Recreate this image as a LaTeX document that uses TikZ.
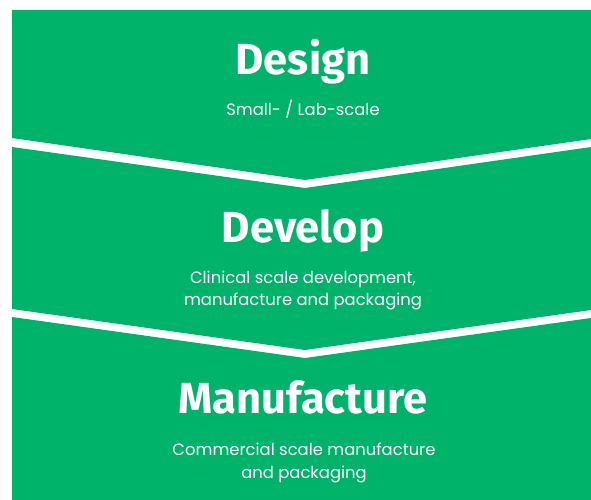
\documentclass[tikz,border=0pt]{standalone}
\usepackage{fontspec}
\newfontfamily\titlefont{Fira Sans}
\newfontfamily\subfont{Poppins}
\definecolor{brandgreen}{RGB}{0,179,107}
\begin{document}
\begin{tikzpicture}[x=1pt,y=-1pt,
  band/.style={fill=brandgreen,draw=none},
  title/.style={text=white,font=\titlefont\fontsize{43.5}{50}\selectfont\bfseries,anchor=base,inner sep=0pt},
  sub/.style={text=white,font=\subfont\fontsize{16.4}{22}\selectfont,anchor=base,inner sep=0pt}]
\fill[white] (0,0) rectangle (591,500);
\useasboundingbox (0,0) rectangle (591,500);
\fill[band] (12,10) -- (591,10) -- (591,139) -- (305,180) -- (12,138) -- cycle;
\fill[band] (12,147) -- (305,188) -- (591,147) -- (591,310) -- (305,350) -- (12,309) -- cycle;
\fill[band] (12,317) -- (305,358) -- (591,318) -- (591,500) -- (12,500) -- cycle;
\node[title] (t1) at (303,75) {Design};
\node[sub] (s1) at (303,116) {Small- / Lab-scale};
\node[title] (t2) at (303,242) {Develop};
\node[sub] (s2a) at (303,283) {Clinical scale development,};
\node[sub] (s2b) at (303,305.5) {manufacture and packaging};
\node[title] (t3) at (303,413) {Manufacture};
\node[sub] (s3a) at (304,455) {Commercial scale manufacture};
\node[sub] (s3b) at (304,478) {and packaging};
\end{tikzpicture}
\end{document}
